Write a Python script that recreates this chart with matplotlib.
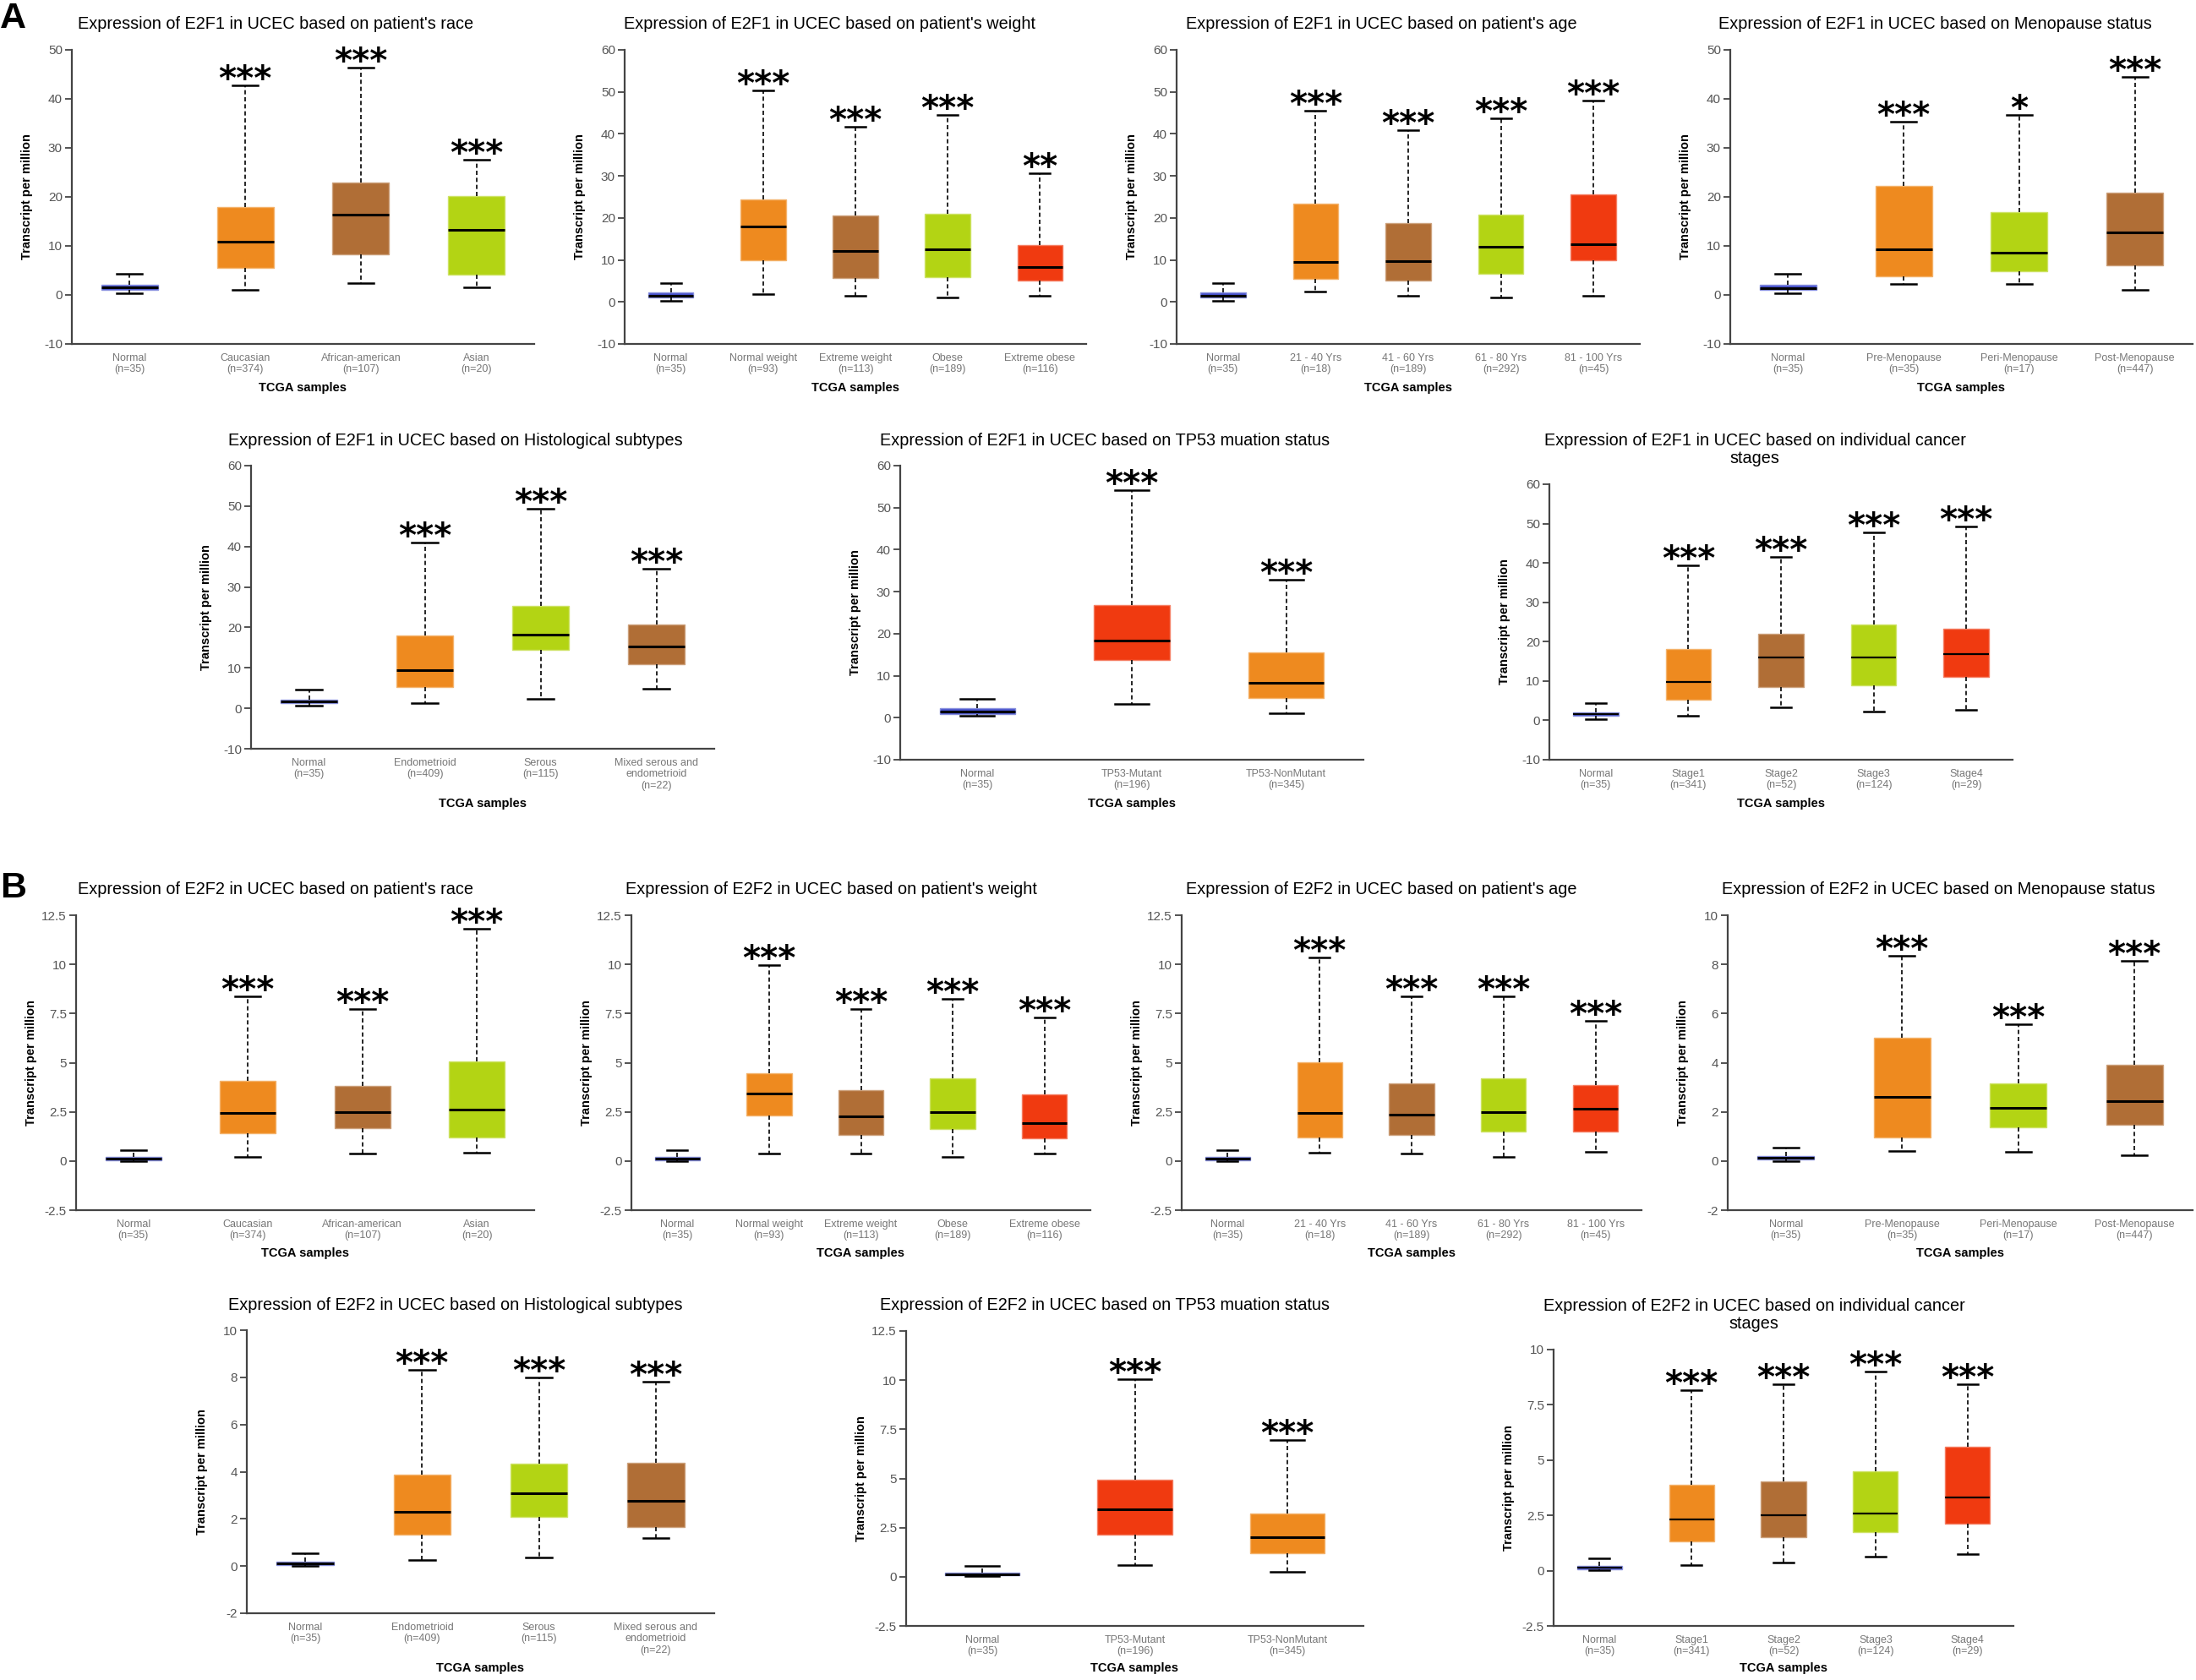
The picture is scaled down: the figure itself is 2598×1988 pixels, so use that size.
import numpy as np
import matplotlib
matplotlib.use('Agg')
import matplotlib.pyplot as plt
from matplotlib.ticker import MultipleLocator, FuncFormatter
from matplotlib.colors import to_rgb

plt.rcParams['font.family'] = ['Liberation Sans', 'DejaVu Sans']

W, H = 2598, 1988

BLUE = '#4752cc'
ORANGE = '#ee8a1f'
BROWN = '#b06e36'
LIME = '#b3d414'
RED = '#f03a10'

# x categories
race_labels = ['Normal\n(n=35)', 'Caucasian\n(n=374)', 'African-american\n(n=107)', 'Asian\n(n=20)']
weight_labels = ['Normal\n(n=35)', 'Normal weight\n(n=93)', 'Extreme weight\n(n=113)',
                 'Obese\n(n=189)', 'Extreme obese\n(n=116)']
age_labels = ['Normal\n(n=35)', '21 - 40 Yrs\n(n=18)', '41 - 60 Yrs\n(n=189)',
              '61 - 80 Yrs\n(n=292)', '81 - 100 Yrs\n(n=45)']
meno_labels = ['Normal\n(n=35)', 'Pre-Menopause\n(n=35)', 'Peri-Menopause\n(n=17)', 'Post-Menopause\n(n=447)']
hist_labels = ['Normal\n(n=35)', 'Endometrioid\n(n=409)', 'Serous\n(n=115)',
               'Mixed serous and\nendometrioid\n(n=22)']
tp53_labels = ['Normal\n(n=35)', 'TP53-Mutant\n(n=196)', 'TP53-NonMutant\n(n=345)']
stage_labels = ['Normal\n(n=35)', 'Stage1\n(n=341)', 'Stage2\n(n=52)', 'Stage3\n(n=124)', 'Stage4\n(n=29)']

# box stats per group: [whisker low, q1, median, q3, whisker high]
e2f1_race = [[0.34, 1.03, 1.5, 2.07, 4.36], [1.09, 5.5, 10.9, 18.0, 42.8],
             [2.35, 8.2, 16.4, 23.0, 46.3], [1.6, 4.1, 13.3, 20.1, 27.6]]
e2f1_race_stars = ['', '***', '***', '***']

e2f1_weight = [[0.34, 1.0, 1.4, 2.2, 4.4], [1.9, 10.0, 17.9, 24.4, 50.3], [1.5, 5.6, 12.2, 20.6, 41.6],
               [1.1, 5.8, 12.6, 21.0, 44.6], [1.5, 5.0, 8.4, 13.6, 30.6]]
e2f1_weight_stars = ['', '***', '***', '***', '**']

e2f1_age = [[0.33, 1.0, 1.4, 2.2, 4.4], [2.5, 5.4, 9.6, 23.3, 45.5], [1.5, 5.0, 9.8, 18.8, 40.9],
            [1.1, 6.7, 13.1, 20.7, 43.8], [1.5, 10.0, 13.8, 25.7, 48.0]]
e2f1_age_stars = ['', '***', '***', '***', '***']

e2f1_meno = [[0.34, 1.0, 1.4, 2.1, 4.36], [2.2, 3.85, 9.3, 22.3, 35.4],
             [2.2, 4.9, 8.55, 16.9, 36.7], [1.1, 6.1, 12.7, 20.8, 44.5]]
e2f1_meno_stars = ['', '***', '*', '***']

e2f1_hist = [[0.6, 1.2, 1.6, 2.2, 4.6], [1.3, 5.3, 9.5, 18.0, 41.0],
             [2.3, 14.5, 18.2, 25.4, 49.3], [4.8, 11.0, 15.2, 20.8, 34.6]]
e2f1_hist_stars = ['', '***', '***', '***']

e2f1_tp53 = [[0.4, 0.95, 1.55, 2.2, 4.4], [3.2, 13.8, 18.3, 26.9, 54.2], [1.1, 4.75, 8.3, 15.6, 32.8]]
e2f1_tp53_stars = ['', '***', '***']

e2f1_stage = [[0.36, 1.07, 1.5, 2.07, 4.4], [1.07, 5.2, 9.86, 18.1, 39.3], [3.3, 8.4, 15.9, 21.9, 41.5],
              [2.2, 9.0, 15.9, 24.4, 47.8], [2.7, 11.1, 16.9, 23.2, 49.2]]
e2f1_stage_stars = ['', '***', '***', '***', '***']

e2f2_race = [[0.01, 0.04, 0.12, 0.2, 0.55], [0.22, 1.41, 2.43, 4.06, 8.39],
             [0.37, 1.65, 2.47, 3.83, 7.73], [0.41, 1.2, 2.6, 5.08, 11.81]]
e2f2_race_stars = ['', '***', '***', '***']

e2f2_weight = [[0.01, 0.04, 0.12, 0.2, 0.55], [0.37, 2.31, 3.44, 4.45, 9.96], [0.37, 1.34, 2.27, 3.59, 7.73],
               [0.22, 1.61, 2.47, 4.22, 8.24], [0.37, 1.14, 1.93, 3.4, 7.31]]
e2f2_weight_stars = ['', '***', '***', '***', '***']

e2f2_age = [[0.01, 0.04, 0.12, 0.2, 0.55], [0.41, 1.2, 2.43, 5.04, 10.36], [0.37, 1.34, 2.37, 3.95, 8.39],
            [0.22, 1.51, 2.47, 4.2, 8.39], [0.47, 1.51, 2.64, 3.84, 7.13]]
e2f2_age_stars = ['', '***', '***', '***', '***']

e2f2_meno = [[0.01, 0.05, 0.14, 0.2, 0.55], [0.41, 0.96, 2.62, 5.03, 8.34],
             [0.38, 1.36, 2.15, 3.16, 5.56], [0.23, 1.48, 2.44, 3.9, 8.16]]
e2f2_meno_stars = ['', '***', '***', '***']

e2f2_hist = [[0.0, 0.04, 0.12, 0.2, 0.56], [0.25, 1.32, 2.29, 3.87, 8.33],
             [0.37, 2.1, 3.08, 4.34, 7.99], [1.18, 1.66, 2.78, 4.39, 7.82]]
e2f2_hist_stars = ['', '***', '***', '***']

e2f2_tp53 = [[0.02, 0.06, 0.14, 0.22, 0.57], [0.61, 2.13, 3.43, 4.95, 10.06], [0.25, 1.18, 2.03, 3.23, 6.97]]
e2f2_tp53_stars = ['', '***', '***']

e2f2_stage = [[0.03, 0.06, 0.13, 0.2, 0.55], [0.27, 1.34, 2.31, 3.89, 8.18], [0.38, 1.53, 2.51, 4.02, 8.42],
              [0.64, 1.76, 2.59, 4.5, 9.0], [0.75, 2.13, 3.32, 5.59, 8.42]]
e2f2_stage_stars = ['', '***', '***', '***', '***']


def lighten(c, amt=0.35):
    r, g, b = to_rgb(c)
    return (r + (1 - r) * amt, g + (1 - g) * amt, b + (1 - b) * amt)


def title_for(gene, what):
    return 'Expression of %s in UCEC based on %s' % (gene, what)


fig = plt.figure(figsize=(W / 100, H / 100), dpi=100)


def panel(stats, labels, colors, stars, title, ylim, step, rect, tpos, xlab_y, med_lw=2.2):
    x0, y0, x1, y1 = rect
    ax = fig.add_axes([x0 / W, 1 - y1 / H, (x1 - x0) / W, (y1 - y0) / H])
    n = len(stats)
    pos = np.arange(1, n + 1)
    bstats = [dict(whislo=s[0], q1=s[1], med=s[2], q3=s[3], whishi=s[4], fliers=[]) for s in stats]
    parts = ax.bxp(bstats, positions=pos, widths=0.49, capwidths=0.22, patch_artist=True,
                   showfliers=False,
                   boxprops=dict(linewidth=1.0),
                   medianprops=dict(color='black', linewidth=med_lw),
                   whiskerprops=dict(color='black', linewidth=1.2, linestyle=(0, (3, 2))),
                   capprops=dict(color='black', linewidth=1.8))
    for patch, c in zip(parts['boxes'], colors):
        patch.set_facecolor(c)
        patch.set_edgecolor(lighten(c))
    for p, s, st in zip(pos, stats, stars):
        if st:
            ax.annotate(st, xy=(p, s[4]), xytext=(0, -3.6), textcoords='offset points',
                        ha='center', va='baseline', fontsize=29, fontweight='bold',
                        family='DejaVu Sans')
    ax.set_xlim(0.5, n + 0.5)
    ax.set_ylim(*ylim)
    ax.yaxis.set_major_locator(MultipleLocator(step))
    ax.yaxis.set_major_formatter(FuncFormatter(lambda v, _: '%g' % v))
    ax.set_xticks(pos)
    ax.set_xticklabels(labels, fontsize=9, color='#777777', linespacing=1.15)
    ax.tick_params(axis='x', length=0, pad=8)
    ax.tick_params(axis='y', length=6, width=1.3, color='#444444', labelsize=11,
                   labelcolor='#555555', pad=2)
    for side in ['top', 'right']:
        ax.spines[side].set_visible(False)
    for side in ['left', 'bottom']:
        ax.spines[side].set_color('#444444')
        ax.spines[side].set_linewidth(1.6)
    fig.text(tpos[0] / W, 1 - tpos[1] / H, title, ha='center', va='center', fontsize=14.3,
             linespacing=1.12)
    fig.text((x0 + x1) / 2 / W, 1 - xlab_y / H, 'TCGA samples', ha='center', va='center',
             fontsize=10.5, fontweight='bold')
    fig.text((x0 - 53) / W, 1 - (y0 + y1) / 2 / H, 'Transcript per million', ha='center',
             va='center', rotation=90, fontsize=10.5, fontweight='bold')
    return ax


c4_race = [BLUE, ORANGE, BROWN, LIME]
c5 = [BLUE, ORANGE, BROWN, LIME, RED]
c4_meno = [BLUE, ORANGE, LIME, BROWN]
c3_tp53 = [BLUE, RED, ORANGE]

# ---- A: E2F1 ----
panel(e2f1_race, race_labels, c4_race, e2f1_race_stars, title_for('E2F1', "patient's race"),
      (-10, 50), 10, (85, 59, 632, 407), (326, 28), 459)
panel(e2f1_weight, weight_labels, c5, e2f1_weight_stars, title_for('E2F1', "patient's weight"),
      (-10, 60), 10, (739, 59, 1285, 407), (981, 28), 459)
panel(e2f1_age, age_labels, c5, e2f1_age_stars, title_for('E2F1', "patient's age"),
      (-10, 60), 10, (1392, 59, 1940, 407), (1634, 28), 459)
panel(e2f1_meno, meno_labels, c4_meno, e2f1_meno_stars, title_for('E2F1', 'Menopause status'),
      (-10, 50), 10, (2047, 59, 2594, 407), (2289, 28), 459)
panel(e2f1_hist, hist_labels, c4_meno, e2f1_hist_stars, title_for('E2F1', 'Histological subtypes'),
      (-10, 60), 10, (297, 551, 845, 886), (539, 521), 951)
panel(e2f1_tp53, tp53_labels, c3_tp53, e2f1_tp53_stars, title_for('E2F1', 'TP53 muation status'),
      (-10, 60), 10, (1065, 551, 1613, 899), (1307, 521), 951)
panel(e2f1_stage, stage_labels, c5, e2f1_stage_stars,
      title_for('E2F1', 'individual cancer') + '\nstages',
      (-10, 60), 10, (1833, 573, 2381, 899), (2076, 532), 951, med_lw=1.6)

# ---- B: E2F2 ----
panel(e2f2_race, race_labels, c4_race, e2f2_race_stars, title_for('E2F2', "patient's race"),
      (-2.5, 12.5), 2.5, (90, 1083, 632, 1432), (326, 1053), 1483)
panel(e2f2_weight, weight_labels, c5, e2f2_weight_stars, title_for('E2F2', "patient's weight"),
      (-2.5, 12.5), 2.5, (747, 1083, 1290, 1432), (983, 1053), 1483)
panel(e2f2_age, age_labels, c5, e2f2_age_stars, title_for('E2F2', "patient's age"),
      (-2.5, 12.5), 2.5, (1398, 1083, 1942, 1432), (1634, 1053), 1483)
panel(e2f2_meno, meno_labels, c4_meno, e2f2_meno_stars, title_for('E2F2', 'Menopause status'),
      (-2, 10), 2, (2044, 1083, 2594, 1432), (2293, 1053), 1483)
panel(e2f2_hist, hist_labels, c4_meno, e2f2_hist_stars, title_for('E2F2', 'Histological subtypes'),
      (-2, 10), 2, (292, 1574, 845, 1909), (539, 1545), 1974)
panel(e2f2_tp53, tp53_labels, c3_tp53, e2f2_tp53_stars, title_for('E2F2', 'TP53 muation status'),
      (-2.5, 12.5), 2.5, (1072, 1575, 1613, 1924), (1307, 1544), 1974)
panel(e2f2_stage, stage_labels, c5, e2f2_stage_stars,
      title_for('E2F2', 'individual cancer') + '\nstages',
      (-2.5, 10), 2.5, (1838, 1597, 2382, 1924), (2075, 1556), 1974, med_lw=1.6)

fig.text(0.0, 1 - 2 / H, 'A', ha='left', va='top', fontsize=31, fontweight='bold')
fig.text(0.0, 1 - 1031 / H, 'B', ha='left', va='top', fontsize=31, fontweight='bold')

fig.savefig('out.png', dpi=100, facecolor='white')
